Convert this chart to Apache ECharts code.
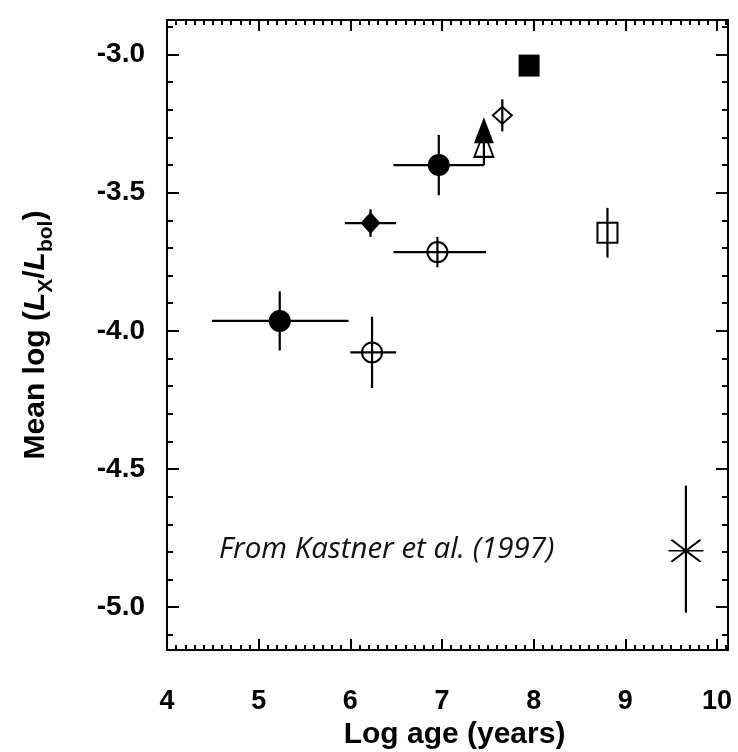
<!DOCTYPE html>
<html><head><meta charset="utf-8">
<script src="https://cdn.jsdelivr.net/npm/echarts@6/dist/echarts.min.js"></script>
<style>html,body{margin:0;padding:0;background:#fff}#c{width:738px;height:752px}</style>
</head><body><div id="c"></div>
<script>
// ---- data ----
const pointKind = ['filledCircle','filledDiamond','filledCircle','filledTriangle','filledSquare','openCircle','openCircle','openTriangle','openDiamond','openSquare','asterisk'];
const logAge = [5.23, 6.22, 6.965, 7.457, 7.95, 6.237, 6.95, 7.457, 7.658, 8.805, 9.661];
const meanLogLxLbol = [-3.964, -3.61, -3.40, -3.274, -3.04, -4.078, -3.715, -3.325, -3.22, -3.645, -4.796];
const logAgeLow  = [4.49, 5.94, 6.47, null, null, 6.0, 6.47, null, null, null, null];
const logAgeHigh = [5.98, 6.50, 7.457, null, null, 6.5, 7.48, null, null, null, null];
const lxLow  = [-4.071, -3.66, -3.509, null, null, -4.207, -3.77, -3.40, -3.278, -3.735, -5.02];
const lxHigh = [-3.857, -3.56, -3.291, null, null, -3.949, -3.66, -3.25, -3.162, -3.555, -4.56];
const xTickValues = [4, 5, 6, 7, 8, 9, 10];
const xTickLabels = ['4', '5', '6', '7', '8', '9', '10'];
const yTickValues = [-5.0, -4.5, -4.0, -3.5, -3.0];
const yTickLabels = ['-5.0', '-4.5', '-4.0', '-3.5', '-3.0'];
const annotation = 'From Kastner et al. (1997)';

// ---- styling ----
const X_MIN = 4, X_MAX = 10.12, Y_MIN = -5.155, Y_MAX = -2.875;
const xMinor = []; for (let k = 41; k <= 101; k++) if (k % 10) xMinor.push(k / 10);
const yMinor = []; for (let k = -51; k <= -29; k++) if (k % 5) yMinor.push(k / 10);

const BLACK = '#000';
const FONT = 'Liberation Sans';
const markerStyles = {
  filledCircle:   {symbol: 'circle',   size: 22,      fill: BLACK},
  openCircle:     {symbol: 'circle',   size: 20,      fill: 'rgba(0,0,0,0)'},
  filledDiamond:  {symbol: 'diamond',  size: [20,22], fill: BLACK},
  openDiamond:    {symbol: 'diamond',  size: [19,17], fill: 'rgba(0,0,0,0)'},
  openTriangle:   {symbol: 'triangle', size: [19,25], fill: 'rgba(0,0,0,0)'},
  filledTriangle: {symbol: 'triangle', size: [20,26], fill: BLACK},
  filledSquare:   {symbol: 'rect',     size: [21,22], fill: BLACK},
  openSquare:     {symbol: 'rect',     size: [20,20], fill: 'rgba(0,0,0,0)'},
  asterisk:       {symbol: 'path://M0,11L35,11M3,1L32,21M3,21L32,1', size: [35,22], fill: 'rgba(0,0,0,0)'}
};
const kindOrder = ['openCircle','openDiamond','openSquare','openTriangle','filledCircle','filledDiamond','filledTriangle','filledSquare','asterisk'];

function makeX(position, ticks, len, withLabels, withLine) {
  return {
    type: 'value', min: X_MIN, max: X_MAX, position: position, gridIndex: 0,
    axisLine: {show: withLine, onZero: false, lineStyle: {color: BLACK, width: 2}},
    axisTick: {show: true, inside: true, length: len, customValues: ticks, lineStyle: {color: BLACK, width: 2}},
    axisLabel: {show: withLabels, customValues: ticks, margin: 38, fontSize: 27, fontWeight: 'bold', color: BLACK, fontFamily: FONT,
      formatter: v => xTickLabels[xTickValues.indexOf(Math.round(v))] || ''},
    splitLine: {show: false}
  };
}
function makeY(position, ticks, len, withLabels, withLine) {
  return {
    type: 'value', min: Y_MIN, max: Y_MAX, position: position, gridIndex: 0,
    axisLine: {show: withLine, onZero: false, lineStyle: {color: BLACK, width: 2}},
    axisTick: {show: true, inside: true, length: len, customValues: ticks, lineStyle: {color: BLACK, width: 2}},
    axisLabel: {show: withLabels, customValues: ticks, margin: 22, fontSize: 28, fontWeight: 'bold', color: BLACK, fontFamily: FONT,
      formatter: v => { const i = yTickValues.findIndex(t => Math.abs(t - v) < 1e-6); return i >= 0 ? yTickLabels[i] : ''; }},
    splitLine: {show: false}
  };
}

const xAxes = [
  Object.assign(makeX('bottom', xTickValues, 11, true, true), {
    name: 'Log age (years)', nameLocation: 'middle', nameGap: 67,
    nameTextStyle: {fontSize: 30, fontWeight: 'bold', color: BLACK, fontFamily: FONT, padding: [0, 0, 0, 14]}
  }),
  makeX('bottom', xMinor, 5, false, false),
  makeX('top', xTickValues, 11, false, true),
  makeX('top', xMinor, 5, false, false)
];
const yAxes = [
  Object.assign(makeY('left', yTickValues, 12, true, true), {
    name: 'Mean log ({i|L}{sub|X}/{i|L}{sub|bol})', nameLocation: 'middle', nameGap: 110, nameRotate: 90,
    nameTextStyle: {fontSize: 30, fontWeight: 'bold', color: BLACK, fontFamily: FONT,
      rich: {
        i: {fontSize: 30, fontWeight: 'bold', fontStyle: 'italic', fontFamily: FONT, color: BLACK},
        sub: {fontSize: 21, fontWeight: 'bold', fontFamily: FONT, color: BLACK, padding: [22, 0, 0, 0]}
      }}
  }),
  makeY('left', yMinor, 6, false, false),
  makeY('right', yTickValues, 12, false, true),
  makeY('right', yMinor, 6, false, false)
];

const errorBarSeries = {
  type: 'custom', xAxisIndex: 0, yAxisIndex: 0, z: 2, silent: true,
  data: logAge.map((x, i) => [x, meanLogLxLbol[i]]),
  encode: {x: 0, y: 1},
  renderItem: function (params, api) {
    const i = params.dataIndex;
    const style = {stroke: BLACK, lineWidth: 2.2, fill: null};
    const children = [];
    if (logAgeLow[i] != null) {
      const a = api.coord([logAgeLow[i], meanLogLxLbol[i]]);
      const b = api.coord([logAgeHigh[i], meanLogLxLbol[i]]);
      children.push({type: 'line', shape: {x1: a[0], y1: a[1], x2: b[0], y2: b[1]}, style: style});
    }
    if (lxLow[i] != null) {
      const a = api.coord([logAge[i], lxLow[i]]);
      const b = api.coord([logAge[i], lxHigh[i]]);
      children.push({type: 'line', shape: {x1: a[0], y1: a[1], x2: b[0], y2: b[1]}, style: style});
    }
    return {type: 'group', children: children};
  }
};

const markerSeries = kindOrder.map((kind, k) => {
  const m = markerStyles[kind];
  const data = [];
  pointKind.forEach((pk, i) => { if (pk === kind) data.push([logAge[i], meanLogLxLbol[i]]); });
  return {
    type: 'scatter', name: kind, xAxisIndex: 0, yAxisIndex: 0, z: 3 + k,
    symbol: m.symbol, symbolSize: m.size, data: data,
    itemStyle: {color: m.fill, borderColor: BLACK, borderWidth: kind.indexOf('filled') === 0 ? 0 : 2, opacity: 1},
    emphasis: {disabled: true}, silent: true
  };
});

const chart = echarts.init(document.getElementById('c'), null, {renderer: 'canvas'});
chart.setOption({
  animation: false,
  backgroundColor: '#fff',
  grid: {left: 167, right: 10, top: 20, bottom: 102, containLabel: false, outerBoundsMode: 'none'},
  xAxis: xAxes,
  yAxis: yAxes,
  series: [errorBarSeries].concat(markerSeries),
  graphic: [{
    type: 'text', left: 219, top: 535,
    style: {text: annotation, font: 'italic 29.5px "Open Sans"', fill: '#111'}
  }]
});
</script>
</body></html>
